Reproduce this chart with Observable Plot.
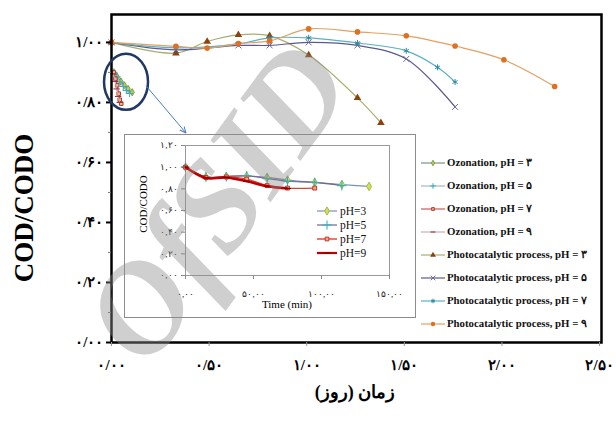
<!DOCTYPE html>
<html>
<head>
<meta charset="utf-8">
<script src="https://cdn.jsdelivr.net/npm/d3@7"></script>
<script src="https://cdn.jsdelivr.net/npm/@observablehq/plot@0.6"></script>
<style>
  body { margin: 0; background: #fff; }
  #wrap { position: relative; width: 616px; height: 421px; overflow: hidden;
          font-family: "Times New Roman", "Liberation Serif", serif; }
  .abs { position: absolute; }
  .legend-row { display: flex; align-items: center; white-space: nowrap; }
  .legend-row svg { flex: none; }
</style>
</head>
<body>
<div id="wrap"></div>
<script>
// ---------- data ----------
const seriesNames = [
  "Ozonation, pH = ۳", "Ozonation, pH = ۵", "Ozonation, pH = ۷", "Ozonation, pH = ۹",
  "Photocatalytic process, pH = ۳", "Photocatalytic process, pH = ۵",
  "Photocatalytic process, pH = ۷", "Photocatalytic process, pH = ۹"
];

// main chart, time in days
const ozPH3Days = [0.012, 0.03, 0.048, 0.066, 0.085, 0.106];
const ozPH3 = [0.90, 0.885, 0.87, 0.857, 0.845, 0.834];
const ozPH5Days = [0.012, 0.028, 0.044, 0.06, 0.076, 0.093];
const ozPH5 = [0.90, 0.885, 0.868, 0.853, 0.84, 0.83];
const ozPH7Days = [0.012, 0.02, 0.029, 0.037, 0.042, 0.05];
const ozPH7 = [0.90, 0.879, 0.857, 0.829, 0.809, 0.796];
const ozPH9Days = [0.01, 0.018, 0.026, 0.034, 0.042];
const ozPH9 = [0.895, 0.87, 0.845, 0.82, 0.80];

const pcPH3Days = [0, 0.33, 0.49, 0.65, 0.81, 1.01, 1.26, 1.38];
const pcPH3 = [1.00, 0.964, 1.003, 1.025, 1.022, 0.958, 0.815, 0.732];
const pcPH5Days = [0, 0.33, 0.65, 0.81, 1.01, 1.26, 1.51, 1.76];
const pcPH5 = [1.00, 0.975, 0.99, 0.99, 1.0, 0.99, 0.945, 0.785];
const pcPH7Days = [0, 0.33, 0.65, 0.81, 1.01, 1.26, 1.51, 1.67, 1.76];
const pcPH7 = [1.00, 0.982, 0.995, 1.015, 1.015, 0.998, 0.972, 0.917, 0.868];
const pcPH9Days = [0, 0.33, 0.49, 0.65, 0.81, 1.01, 1.26, 1.51, 1.76, 2.01, 2.27];
const pcPH9 = [1.00, 0.987, 0.981, 0.996, 1.005, 1.045, 1.035, 1.022, 0.988, 0.942, 0.853];

const mainTimes = [ozPH3Days, ozPH5Days, ozPH7Days, ozPH9Days, pcPH3Days, pcPH5Days, pcPH7Days, pcPH9Days];
const mainValues = [ozPH3, ozPH5, ozPH7, ozPH9, pcPH3, pcPH5, pcPH7, pcPH9];

const xTicks = [0, 0.5, 1, 1.5, 2, 2.5];
const xTickLabels = ["۰/۰۰", "۰/۵۰", "۱/۰۰", "۱/۵۰", "۲/۰۰", "۲/۵۰"];
const yTicks = [0, 0.2, 0.4, 0.6, 0.8, 1.0];
const yTickLabels = ["۰/۰۰", "۰/۲۰", "۰/۴۰", "۰/۶۰", "۰/۸۰", "۱/۰۰"];
const yMinorTicks = [0.1, 0.3, 0.5, 0.7, 0.9];
const xTitle = "زمان (روز)";
const yTitle = "COD/CODO";

// inset: ozonation only, time in minutes
const insetNames = ["pH=3", "pH=5", "pH=7", "pH=9"];
const insetT3 = [0, 15, 30, 45, 60, 75, 95, 115, 135];
const insetV3 = [1.00, 0.91, 0.915, 0.918, 0.906, 0.881, 0.86, 0.84, 0.822];
const insetT5 = [0, 15, 30, 45, 60, 75, 95, 115];
const insetV5 = [1.00, 0.91, 0.912, 0.921, 0.895, 0.87, 0.859, 0.829];
const insetT7 = [0, 15, 30, 45, 60, 75, 95];
const insetV7 = [1.00, 0.905, 0.91, 0.89, 0.83, 0.807, 0.807];
const insetT9 = [0, 15, 30, 45, 60, 75];
const insetV9 = [1.00, 0.90, 0.905, 0.87, 0.825, 0.803];
const insetTimes = [insetT3, insetT5, insetT7, insetT9];
const insetValues = [insetV3, insetV5, insetV7, insetV9];

const insetXTicks = [0, 50, 100, 150];
const insetXTickLabels = ["۰,۰۰", "۵۰,۰۰", "۱۰۰,۰۰", "۱۵۰,۰۰"];
const insetYTicks = [0, 0.2, 0.4, 0.6, 0.8, 1.0, 1.2];
const insetYTickLabels = ["۰,۰۰", "۰,۲۰", "۰,۴۰", "۰,۶۰", "۰,۸۰", "۱,۰۰", "۱,۲۰"];
const insetXTitle = "Time (min)";
const insetYTitle = "COD/CODO";

const watermark = "OfSID";

// ---------- styles ----------
const SERIF = '"Times New Roman", "Liberation Serif", "DejaVu Serif", serif';
// short horizontal dash used as a marker
const dash = {draw(ctx, size) { const w = Math.sqrt(size) * 0.9; ctx.moveTo(-w, 0); ctx.lineTo(w, 0); }};

const mainStyles = [
  {line: "#6d8a7c", w: 1.1, symbol: "diamond",  r: 2.2, fill: "#b5cf5a", stroke: "#7f9f3a"},
  {line: "#9fb0bf", w: 1.1, symbol: "plus",     r: 2.5, fill: "none",    stroke: "#3aa8b8"},
  {line: "#c0504d", w: 1.1, symbol: "square",   r: 2.0, fill: "#f2b48a", stroke: "#b03a2e"},
  {line: "#c9a3ad", w: 1.1, symbol: dash,       r: 2.0, fill: "none",    stroke: "#8b2e3e"},
  {line: "#a9ad6e", w: 1.2, symbol: "triangle", r: 2.8, fill: "#8a4210", stroke: "none"},
  {line: "#5b5a8e", w: 1.2, symbol: "times",    r: 2.8, fill: "none",    stroke: "#6a6aa3"},
  {line: "#58b2c4", w: 1.2, symbol: "asterisk", r: 2.8, fill: "none",    stroke: "#2b8b9e"},
  {line: "#e3a062", w: 1.2, symbol: "circle",   r: 2.8, fill: "#e06f1f", stroke: "none"}
];
const insetStyles = [
  {line: "#7a90b8", w: 1.2, symbol: "diamond", r: 2.6, fill: "#d4e04a", stroke: "#9bbb59"},
  {line: "#6f6a85", w: 1.2, symbol: "plus",    r: 3.2, fill: "none",    stroke: "#2fb0c0"},
  {line: "#e04030", w: 1.4, symbol: "square",  r: 2.2, fill: "#f4a582", stroke: "#c0392b"},
  {line: "#c00000", w: 2.6, symbol: dash,      r: 2.2, fill: "none",    stroke: "#7a0000"}
];

const symbolTypes = {
  diamond: d3.symbolDiamond, plus: d3.symbolPlus, square: d3.symbolSquare, triangle: d3.symbolTriangle,
  times: d3.symbolTimes, asterisk: d3.symbolAsterisk, circle: d3.symbolCircle
};

function rowsOf(times, values) { return times.map((t, i) => ({t, v: values[i]})); }

function seriesMarks(times, values, style, curve) {
  const data = rowsOf(times, values);
  return [
    Plot.line(data, {x: "t", y: "v", stroke: style.line, strokeWidth: style.w, curve}),
    Plot.dot(data, {x: "t", y: "v", symbol: style.symbol, r: style.r, fill: style.fill,
                    stroke: style.stroke, strokeWidth: 1})
  ];
}

const wrap = d3.select("#wrap");

// ---------- main chart ----------
const xLabelMap = new Map(xTicks.map((d, i) => [d, xTickLabels[i]]));
const yLabelMap = new Map(yTicks.map((d, i) => [d, yTickLabels[i]]));

const mainChart = Plot.plot({
  width: 616, height: 421,
  marginLeft: 111, marginRight: 15, marginTop: 14, marginBottom: 79,
  x: {domain: [0, 2.51]},
  y: {domain: [0, 1.093]},
  style: {fontFamily: SERIF, fontSize: "15px", fontWeight: "bold", background: "#fff", color: "#000"},
  marks: [
    ...mainTimes.flatMap((t, i) => seriesMarks(t, mainValues[i], mainStyles[i], "catmull-rom")),
    Plot.frame({stroke: "#000", strokeWidth: 2.5}),
    Plot.axisX(xTicks, {tickSize: 4, tickPadding: 13, stroke: "#999", label: null,
                        tickFormat: d => xLabelMap.get(d)}),
    Plot.axisY(yTicks, {tickSize: 5, tickPadding: 3, strokeWidth: 2, label: null,
                        tickFormat: d => yLabelMap.get(d)}),
    Plot.axisY(yMinorTicks, {tickSize: 3, label: null, stroke: "#777", tickFormat: () => ""})
  ]
});
mainChart.style.position = "absolute";
mainChart.style.left = "0px";
mainChart.style.top = "0px";
wrap.node().appendChild(mainChart);

const mx = mainChart.scale("x"), my = mainChart.scale("y");

// axis titles
wrap.append("div").attr("class", "abs")
  .style("left", "-76px").style("top", "192px").style("width", "200px").style("height", "32px")
  .style("line-height", "32px").style("text-align", "center").style("transform", "rotate(-90deg)")
  .style("font-weight", "bold").style("font-size", "27px").style("font-family", SERIF)
  .text(yTitle);
wrap.append("div").attr("class", "abs").attr("dir", "rtl")
  .style("left", (mx.apply(1.25) - 100) + "px").style("top", "378px").style("width", "200px").style("height", "28px")
  .style("line-height", "28px").style("text-align", "center")
  .style("font-weight", "bold").style("font-size", "18px")
  .text(xTitle);

// ---------- inset ----------
const INSET = {left: 124, top: 134, width: 292, height: 184};
const insetDiv = wrap.append("div").attr("class", "abs")
  .style("left", INSET.left + "px").style("top", INSET.top + "px")
  .style("width", (INSET.width - 2) + "px").style("height", (INSET.height - 2) + "px")
  .style("border", "1px solid #8c8c8c").style("background", "#fff");

const ixLabelMap = new Map(insetXTicks.map((d, i) => [d, insetXTickLabels[i]]));
const iyLabelMap = new Map(insetYTicks.map((d, i) => [d, insetYTickLabels[i]]));

const insetChart = Plot.plot({
  width: INSET.width - 2, height: INSET.height - 2,
  marginLeft: 60, marginRight: 26, marginTop: 10, marginBottom: 42,
  x: {domain: [0, 150]},
  y: {domain: [0, 1.2]},
  style: {fontFamily: SERIF, fontSize: "9px", background: "transparent", color: "#222"},
  marks: [
    Plot.frame({stroke: "#9a9a9a"}),
    ...insetTimes.flatMap((t, i) => seriesMarks(t, insetValues[i], insetStyles[i], "catmull-rom")),
    Plot.axisX(insetXTicks, {tickSize: 4, tickPadding: 11, stroke: "#888", label: null,
                             tickFormat: d => ixLabelMap.get(d)}),
    Plot.axisY(insetYTicks, {tickSize: 4, tickPadding: 4, stroke: "#888", label: null,
                             tickFormat: d => iyLabelMap.get(d)})
  ]
});
insetDiv.node().appendChild(insetChart);
const ix = insetChart.scale("x"), iy = insetChart.scale("y");

insetDiv.append("div").attr("class", "abs")
  .style("left", (ix.apply(75) - 50) + "px").style("top", "163px").style("width", "100px")
  .style("text-align", "center").style("font-size", "11px").style("font-family", SERIF)
  .text(insetXTitle);
insetDiv.append("div").attr("class", "abs")
  .style("left", "-32px").style("top", "62px").style("width", "100px").style("height", "14px")
  .style("line-height", "14px").style("text-align", "center").style("transform", "rotate(-90deg)")
  .style("font-size", "11px").style("font-family", SERIF)
  .text(insetYTitle);

// ---------- legends ----------
function legend(container, names, styles, opts) {
  const box = container.append("div").attr("class", "abs")
    .style("left", opts.left + "px").style("top", opts.top + "px")
    .style("font-family", SERIF).style("font-size", opts.fontSize + "px")
    .style("font-weight", opts.bold ? "bold" : "normal").style("color", "#111");
  names.forEach((name, i) => {
    const s = styles[i];
    const row = box.append("div").attr("class", "legend-row").style("height", opts.rowH + "px");
    const svg = row.append("svg").attr("width", opts.sw).attr("height", 12).style("margin-right", opts.gap + "px");
    svg.append("line").attr("x1", 0).attr("x2", opts.sw).attr("y1", 6).attr("y2", 6)
      .attr("stroke", s.line).attr("stroke-width", Math.min(s.w, 2.2));
    const type = typeof s.symbol === "string" ? symbolTypes[s.symbol] : s.symbol;
    svg.append("path").attr("d", d3.symbol(type, Math.PI * s.r * s.r * opts.scale)())
      .attr("transform", `translate(${opts.sw / 2},6)`)
      .attr("fill", s.fill).attr("stroke", s.stroke === "none" ? null : s.stroke);
    row.append("span").text(name);
  });
}

legend(wrap, seriesNames, mainStyles, {left: 421, top: 151, rowH: 23, sw: 24, gap: 2, fontSize: 10.8, bold: true, scale: 0.6});
legend(insetDiv, insetNames, insetStyles, {left: 192, top: 69, rowH: 14, sw: 20, gap: 3, fontSize: 11.5, bold: false, scale: 0.9});

// ---------- annotation: circled ozonation curves, arrow to the inset, watermark ----------
const over = wrap.append("svg").attr("class", "abs")
  .attr("width", 616).attr("height", 421).style("left", "0px").style("top", "0px")
  .style("pointer-events", "none");

const cx = mx.apply(0.077), cy = my.apply(0.867);
over.append("ellipse").attr("cx", cx).attr("cy", cy).attr("rx", 22).attr("ry", 28)
  .attr("fill", "none").attr("stroke", "#1f3864").attr("stroke-width", 2.5);

over.append("defs").append("marker").attr("id", "head").attr("viewBox", "0 0 10 10")
  .attr("refX", 9).attr("refY", 5).attr("markerWidth", 7).attr("markerHeight", 7).attr("orient", "auto")
  .append("path").attr("d", "M0,1 L9,5 L0,9").attr("fill", "none").attr("stroke", "#4a7ebb").attr("stroke-width", 1.4);
over.append("line")
  .attr("x1", cx + 20).attr("y1", cy + 4)
  .attr("x2", INSET.left + ix.apply(0) + 2).attr("y2", INSET.top - 1)
  .attr("stroke", "#4a7ebb").attr("stroke-width", 1).attr("marker-end", "url(#head)");

over.append("text").text(watermark)
  .attr("transform", "translate(228,210) rotate(-54)")
  .attr("text-anchor", "middle").attr("dominant-baseline", "middle")
  .attr("font-family", SERIF).attr("font-style", "italic").attr("font-weight", "bold")
  .attr("font-size", 130).attr("fill", "#8c8c8c").attr("fill-opacity", 0.42);
</script>
</body>
</html>
